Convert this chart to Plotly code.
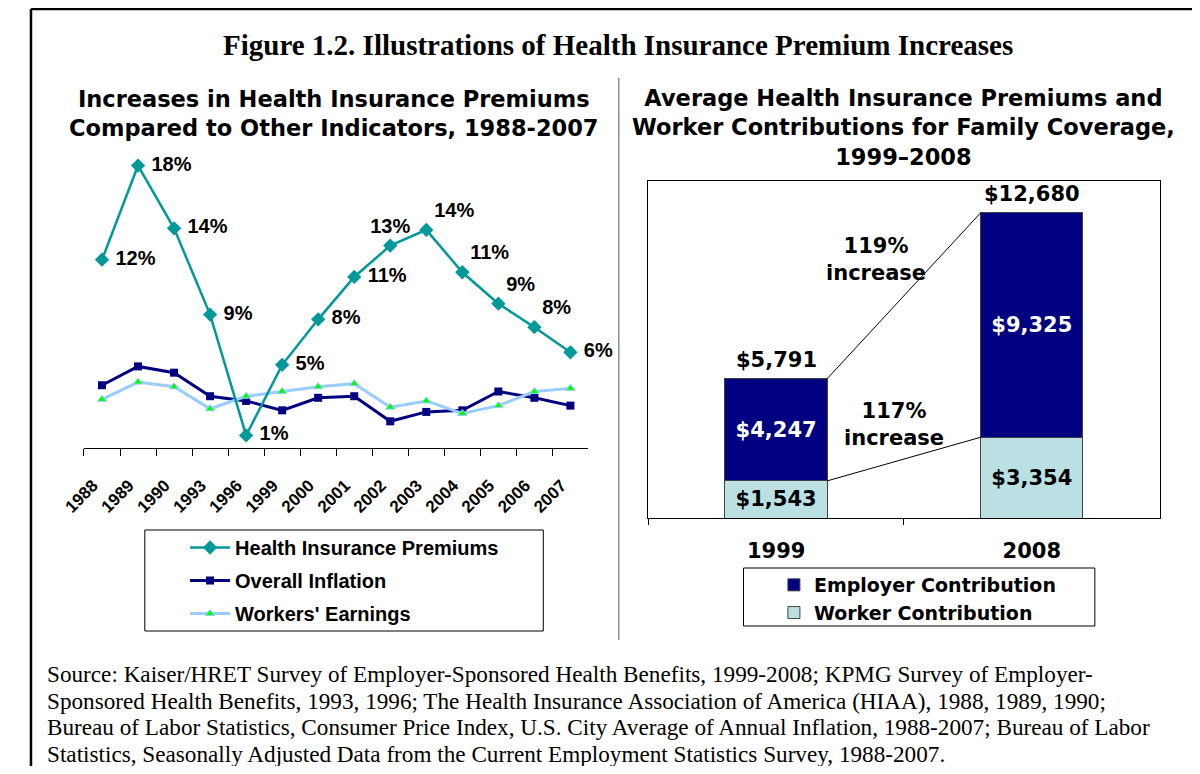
import plotly.graph_objects as go

# ---------------- data ----------------
years = ['1988', '1989', '1990', '1993', '1996', '1999', '2000', '2001',
         '2002', '2003', '2004', '2005', '2006', '2007']
premiums = [12.0, 18.0, 14.0, 8.5, 0.8, 5.3, 8.2, 10.9, 12.9, 13.9, 11.2, 9.2, 7.7, 6.1]
premium_labels = ['12%', '18%', '14%', '9%', '1%', '5%', '8%', '11%', '13%', '14%',
                  '11%', '9%', '8%', '6%']
inflation = [4.0, 5.2, 4.8, 3.3, 3.0, 2.4, 3.2, 3.3, 1.7, 2.3, 2.4, 3.6, 3.2, 2.7]
earnings = [3.1, 4.2, 3.9, 2.5, 3.3, 3.6, 3.9, 4.1, 2.6, 3.0, 2.2, 2.7, 3.6, 3.8]

bar_years = ['1999', '2008']
worker = [1543, 3354]
employer = [4247, 9325]
totals = [5791, 12680]

# ---------------- helpers ----------------
# the page places the figure 8px in from the window edges; keep it inside the window
OFF = 8
W, H = 1200 - 2 * OFF, 774 - 2 * OFF


def px(x):
    return (x - OFF) / W


def py(y):
    return 1 - (y - OFF) / H


TEAL = '#009999'
NAVY = '#000080'
LIGHTBLUE = '#99CCFF'
WORKER_FILL = '#BAE0E3'
SANS = 'Liberation Sans'
WIDE = 'DejaVu Sans'
SERIF = 'Liberation Serif'
NB = '\u00a0'

label_pos = ['middle right'] * 8 + ['top center', 'top right', 'top right',
                                    'top right', 'top right', 'middle right']
label_text = [(NB + t if p == 'middle right' else t) for t, p in zip(premium_labels, label_pos)]

fig = go.Figure()

# ---------------- left chart ----------------
fig.add_trace(go.Scatter(
    x=years, y=inflation, name='Overall Inflation', mode='lines+markers',
    line=dict(color=NAVY, width=3),
    marker=dict(symbol='square', size=8, color=NAVY),
    legendgroup='b', legendrank=2, cliponaxis=False))
fig.add_trace(go.Scatter(
    x=years, y=earnings, name="Workers' Earnings", mode='lines+markers',
    line=dict(color=LIGHTBLUE, width=3),
    marker=dict(symbol='triangle-up', size=8, color='#00FF00',
                line=dict(color=LIGHTBLUE, width=1)),
    legendgroup='c', legendrank=3, cliponaxis=False))
fig.add_trace(go.Scatter(
    x=years, y=premiums, name='Health Insurance Premiums', mode='lines+markers+text',
    line=dict(color=TEAL, width=2.5),
    marker=dict(symbol='diamond', size=11, color=TEAL),
    text=label_text, textposition=label_pos,
    textfont=dict(family=SANS, size=20, color='black', weight='bold'),
    legendgroup='a', legendrank=1, cliponaxis=False))

# ---------------- right chart ----------------
fig.add_trace(go.Bar(
    x=bar_years, y=worker, name='Worker Contribution',
    marker=dict(color=WORKER_FILL, line=dict(color='#404040', width=1)),
    text=[f'${v:,}' for v in worker], textposition='inside',
    insidetextanchor='middle', constraintext='none',
    textfont=dict(family=WIDE, size=21, color='black', weight='bold'),
    xaxis='x2', yaxis='y2', legend='legend2', legendrank=2))
fig.add_trace(go.Bar(
    x=bar_years, y=employer, name='Employer Contribution',
    marker=dict(color=NAVY, line=dict(color='#404040', width=1)),
    text=[f'${v:,}' for v in employer], textposition='inside',
    insidetextanchor='middle', constraintext='none',
    textfont=dict(family=WIDE, size=21, color='white', weight='bold'),
    xaxis='x2', yaxis='y2', legend='legend2', legendrank=1))

BARGAP = 0.6
half = (1 - BARGAP) / 2
stack_top = [w + e for w, e in zip(worker, employer)]
shapes = [
    dict(type='line', xref='x2', yref='y2', x0=0 + half, y0=stack_top[0],
         x1=1 - half, y1=stack_top[1], line=dict(color='black', width=1)),
    dict(type='line', xref='x2', yref='y2', x0=0 + half, y0=worker[0],
         x1=1 - half, y1=worker[1], line=dict(color='black', width=1)),
    # divider
    dict(type='line', xref='paper', yref='paper', x0=px(608), x1=px(608),
         y0=py(78), y1=py(640), line=dict(color='#555555', width=1)),
    # outer frame (top + left)
    dict(type='line', xref='paper', yref='paper', x0=px(9), x1=1,
         y0=py(9), y1=py(9), line=dict(color='black', width=2.5)),
    dict(type='line', xref='paper', yref='paper', x0=px(9), x1=px(9),
         y0=py(9), y1=0, line=dict(color='black', width=2.5)),
    # legend boxes
    dict(type='rect', xref='paper', yref='paper', x0=px(125), x1=px(531),
         y0=py(631), y1=py(530), line=dict(color='black', width=1)),
    dict(type='rect', xref='paper', yref='paper', x0=px(735), x1=px(1093),
         y0=py(626), y1=py(568), line=dict(color='black', width=1)),
]

pct_total = round((totals[1] / totals[0] - 1) * 100)
pct_worker = round((worker[1] / worker[0] - 1) * 100)


def para(text, x, y, font, xanchor='center'):
    return dict(text=text, x=px(x), y=py(y), xref='paper', yref='paper',
                xanchor=xanchor, yanchor='middle', showarrow=False, font=font)


annotations = [
    para('<b>Figure 1.2. Illustrations of Health Insurance Premium Increases</b>', 607, 45,
         dict(family=SERIF, size=29, color='black')),
    para('<b>Increases in Health Insurance Premiums<br>Compared to Other Indicators, 1988-2007</b>',
         318, 113, dict(family=WIDE, size=22.5, color='black')),
    para('<b>Average Health Insurance Premiums and<br>Worker Contributions for Family Coverage,<br>1999\u20132008</b>',
         898, 127, dict(family=WIDE, size=22.5, color='black')),
    dict(text=f'<b>{pct_total}%<br>increase</b>', x=0.39, y=10720, xref='x2', yref='y2',
         xanchor='center', yanchor='middle',
         showarrow=False, font=dict(family=WIDE, size=21, color='black')),
    dict(text=f'<b>{pct_worker}%<br>increase</b>', x=0.46, y=3864, xref='x2', yref='y2',
         xanchor='center', yanchor='middle',
         showarrow=False, font=dict(family=WIDE, size=21, color='black')),
]
for i, tot in enumerate(totals):
    annotations.append(dict(text=f'<b>${tot:,}</b>', x=i, y=tot, xref='x2', yref='y2',
                            xanchor='center', yanchor='bottom', yshift=5, showarrow=False,
                            font=dict(family=WIDE, size=21, color='black')))

source_lines = [
    'Source: Kaiser/HRET Survey of Employer-Sponsored Health Benefits, 1999-2008; KPMG Survey of Employer-',
    'Sponsored Health Benefits, 1993, 1996; The Health Insurance Association of America (HIAA), 1988, 1989, 1990;',
    'Bureau of Labor Statistics, Consumer Price Index, U.S. City Average of Annual Inflation, 1988-2007; Bureau of Labor',
    'Statistics, Seasonally Adjusted Data from the Current Employment Statistics Survey, 1988-2007.',
]
for i, line in enumerate(source_lines):
    annotations.append(para(line, 23, 674 + i * 26.7,
                            dict(family=SERIF, size=23.2, color='black'), xanchor='left'))

fig.update_layout(
    width=W, height=H, margin=dict(l=0, r=0, t=0, b=0),
    paper_bgcolor='white', plot_bgcolor='white',
    barmode='stack', bargap=BARGAP,
    shapes=shapes, annotations=annotations,
    xaxis=dict(domain=[px(63), px(577)], anchor='y', type='category',
               range=[-0.5, len(years) - 0.5],
               showline=True, linecolor='black', linewidth=1, showgrid=False,
               ticks='outside', tickson='boundaries', ticklen=7, tickcolor='black',
               tickangle=-45, ticklabelstandoff=20, ticklabelshift=-9,
               tickfont=dict(family=SANS, size=17, color='black', weight='bold')),
    yaxis=dict(domain=[py(448), py(142)], range=[0, 19.5], visible=False),
    xaxis2=dict(domain=[px(638), px(1159)], anchor='y2', type='category',
                range=[-0.5, len(bar_years) - 0.5],
                showline=True, mirror=True, linecolor='black', linewidth=1, showgrid=False,
                ticks='outside', tickson='boundaries', ticklen=6, tickcolor='black',
                ticklabelstandoff=14,
                tickfont=dict(family=WIDE, size=21, color='black', weight='bold')),
    yaxis2=dict(domain=[py(518), py(181)], anchor='x2', range=[0, 14000],
                showline=True, mirror=True, linecolor='black', linewidth=1,
                showgrid=False, zeroline=False, showticklabels=False, ticks=''),
    legend=dict(x=px(166), y=py(528), xanchor='left', yanchor='top',
                bgcolor='rgba(0,0,0,0)', borderwidth=0, itemwidth=40,
                tracegroupgap=4, traceorder='grouped',
                font=dict(family=SANS, size=20, color='black', weight='bold')),
    legend2=dict(x=px(766), y=py(566), xanchor='left', yanchor='top',
                 bgcolor='rgba(0,0,0,0)', borderwidth=0, itemwidth=30,
                 traceorder='normal',
                 font=dict(family=WIDE, size=19, color='black', weight='bold')),
)

fig.write_html('out.html')
